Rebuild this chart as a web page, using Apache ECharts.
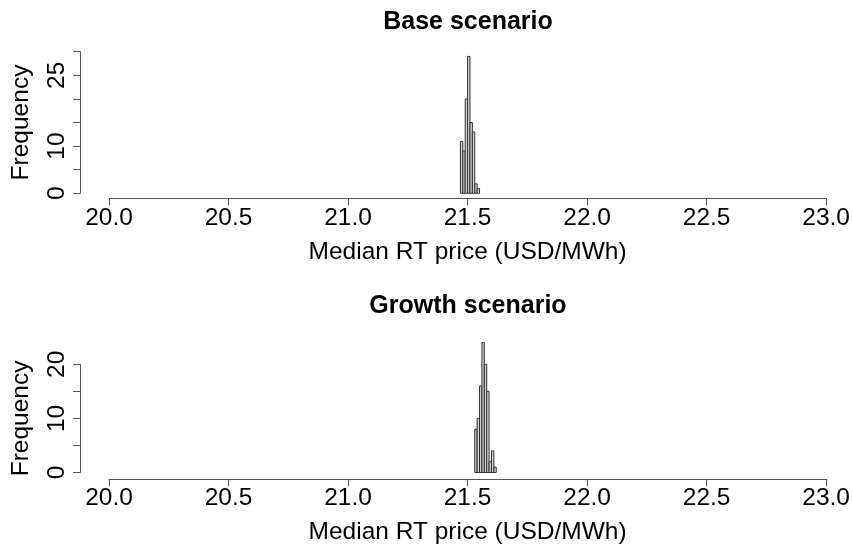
<!DOCTYPE html>
<html>
<head>
<meta charset="utf-8">
<script src="https://cdn.jsdelivr.net/npm/echarts@6/dist/echarts.min.js"></script>
<style>
  html, body { margin: 0; padding: 0; background: #fff; }
  #chart { width: 853px; height: 546px; }
</style>
</head>
<body>
<div id="chart"></div>
<script>
// Histogram of median real-time prices, two scenarios
const baseBreaks = [21.47, 21.48, 21.49, 21.50, 21.51, 21.52, 21.53, 21.54, 21.55];
const baseCounts = [11, 9, 20, 29, 15, 13, 2, 1];

const growthBreaks = [21.53, 21.54, 21.55, 21.56, 21.57, 21.58, 21.59, 21.60, 21.61, 21.62];
const growthCounts = [8, 10, 16, 24, 20, 15, 2, 4, 1];

const xTicks = [20.0, 20.5, 21.0, 21.5, 22.0, 22.5, 23.0];
const baseYLabels = [0, 10, 25];
const growthYLabels = [0, 10, 20];

const titles = ['Base scenario', 'Growth scenario'];
const xName = 'Median RT price (USD/MWh)';
const yName = 'Frequency';

const FONT = '"Liberation Sans", Arial, sans-serif';
const AXIS_COLOR = '#555';

function binsOf(breaks, counts) {
  return counts.map((c, i) => [breaks[i], breaks[i + 1], c]);
}

function renderBin(params, api) {
  const p0 = api.coord([api.value(0), 0]);
  const p1 = api.coord([api.value(1), api.value(2)]);
  return {
    type: 'rect',
    shape: { x: p0[0], y: p1[1], width: p1[0] - p0[0], height: p0[1] - p1[1] },
    style: { fill: '#d0d0d0', stroke: '#333', lineWidth: 1 }
  };
}

function xAxisFor(gridIndex, offset) {
  return {
    type: 'value', gridIndex, min: xTicks[0], max: xTicks[xTicks.length - 1],
    interval: 0.5, offset,
    axisLine: { show: true, onZero: false, lineStyle: { color: AXIS_COLOR, width: 1 } },
    axisTick: { show: true, length: 7, lineStyle: { color: AXIS_COLOR } },
    splitLine: { show: false },
    axisLabel: { color: '#000', fontFamily: FONT, fontSize: 24.5, margin: 7,
      formatter: v => v.toFixed(1) },
    name: xName, nameLocation: 'middle', nameGap: 41,
    nameTextStyle: { color: '#000', fontFamily: FONT, fontSize: 24.5 }
  };
}

function yAxisFor(gridIndex, max, shown) {
  return {
    type: 'value', gridIndex, min: 0, max, interval: 5, offset: 29,
    axisLine: { show: true, lineStyle: { color: AXIS_COLOR, width: 1 } },
    axisTick: { show: true, length: 7, lineStyle: { color: AXIS_COLOR } },
    splitLine: { show: false },
    axisLabel: { color: '#000', fontFamily: FONT, fontSize: 24.5, rotate: 90, margin: 10,
      formatter: v => (shown.indexOf(v) >= 0 ? String(v) : '') },
    name: yName, nameLocation: 'middle', nameRotate: 90, nameGap: 46,
    nameTextStyle: { color: '#000', fontFamily: FONT, fontSize: 24.5 }
  };
}

const chart = echarts.init(document.getElementById('chart'), null, { renderer: 'canvas' });
chart.setOption({
  animation: false,
  backgroundColor: '#fff',
  title: [
    { text: titles[0], left: 468, top: 10, textAlign: 'center', padding: 0,
      textStyle: { fontFamily: FONT, fontSize: 25, fontWeight: 'bold', color: '#000' } },
    { text: titles[1], left: 468, top: 294, textAlign: 'center', padding: 0,
      textStyle: { fontFamily: FONT, fontSize: 25, fontWeight: 'bold', color: '#000' } }
  ],
  grid: [
    { left: 109, width: 718.7, top: 51.7, height: 141.6 },
    { left: 109, width: 718.7, top: 364.3, height: 112.4 }
  ],
  xAxis: [xAxisFor(0, 5), xAxisFor(1, 6.5)],
  yAxis: [yAxisFor(0, 30, baseYLabels), yAxisFor(1, 20, growthYLabels)],
  series: [
    { type: 'custom', xAxisIndex: 0, yAxisIndex: 0, clip: false,
      data: binsOf(baseBreaks, baseCounts), renderItem: renderBin },
    { type: 'custom', xAxisIndex: 1, yAxisIndex: 1, clip: false,
      data: binsOf(growthBreaks, growthCounts), renderItem: renderBin }
  ]
});
</script>
</body>
</html>
